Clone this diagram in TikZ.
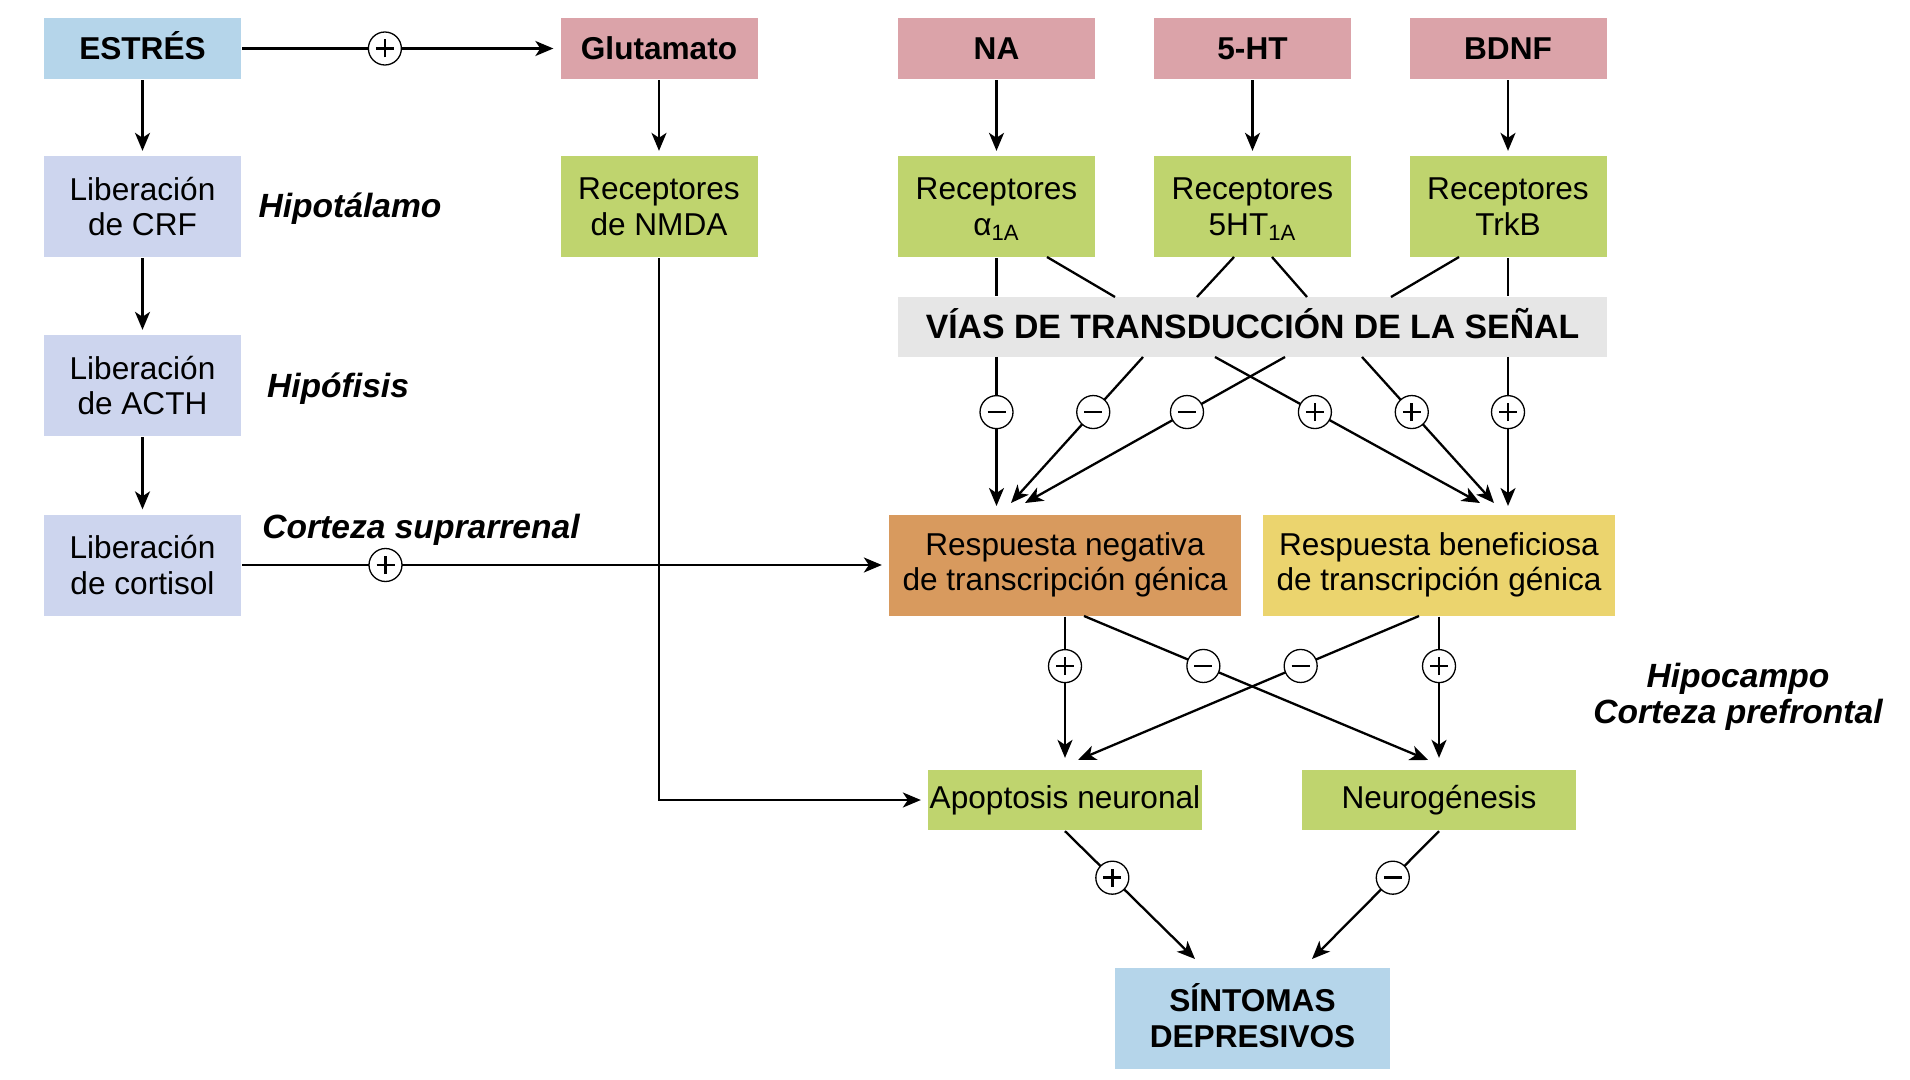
\documentclass[tikz,border=0pt]{standalone}
\usepackage{fontspec}
\setmainfont{Liberation Sans}
\usetikzlibrary{arrows.meta}
\definecolor{cblue}{HTML}{B5D5EA}
\definecolor{cpink}{HTML}{DBA3A9}
\definecolor{cgreen}{HTML}{BFD46E}
\definecolor{clav}{HTML}{CDD5EE}
\definecolor{cgray}{HTML}{E6E6E6}
\definecolor{corange}{HTML}{D89A5E}
\definecolor{cyellow}{HTML}{EBD46E}
\tikzset{
  box/.style={rectangle, inner sep=0pt, align=center, font=\fontsize{15.8}{17.8}\selectfont},
  bbox/.style={box, font=\fontsize{15.8}{17.8}\selectfont\bfseries},
  rowA/.style={minimum width=98.5pt, minimum height=30.5pt},
  rowB/.style={minimum width=98.5pt, minimum height=50.5pt},
  lbl/.style={align=center, inner sep=0pt, font=\fontsize{16.8}{18}\selectfont\bfseries\itshape},
  sgn/.style={circle, draw, fill=white, line width=0.65pt, minimum size=16.5pt, inner sep=0pt},
  signline/.style={line width=1.3pt, arrows=-, shorten >=0pt, shorten <=0pt},
  signplus/.style={sgn, path picture={\draw[signline]
      ([xshift=-4.5pt]path picture bounding box.center) -- ([xshift=4.5pt]path picture bounding box.center)
      ([yshift=-4.5pt]path picture bounding box.center) -- ([yshift=4.5pt]path picture bounding box.center);}},
  signminus/.style={sgn, path picture={\draw[signline]
      ([xshift=-4.5pt]path picture bounding box.center) -- ([xshift=4.5pt]path picture bounding box.center);}},
}
\begin{document}
\begin{tikzpicture}[x=0.5pt, y=-0.5pt, line width=1.15pt,
  >={Stealth[length=9pt,width=7.5pt,inset=2.5pt]}]
\useasboundingbox (0,0) rectangle (1910,1080);

% row 1
\node[bbox, rowA, fill=cblue] (estres) at (142.5,48.5) {ESTR\smash{É}S};
\node[bbox, rowA, fill=cpink] (glut) at (659,48.5) {Glutamato};
\node[bbox, rowA, fill=cpink] (na) at (996.5,48.5) {NA};
\node[bbox, rowA, fill=cpink] (ht) at (1252.5,48.5) {5-HT};
\node[bbox, rowA, fill=cpink] (bdnf) at (1508,48.5) {BDNF};
% row 2
\node[box, rowB, fill=clav] (crf) at (142.5,206.5) {Liberación\\de CRF};
\node[box, rowB, fill=cgreen] (nmda) at (659,206.5) {Receptores\\de NMDA};
\node[box, rowB, fill=cgreen] (ralpha) at (996.5,206.5) {Receptores\\α\smash{\textsubscript{1A}}};
\node[box, rowB, fill=cgreen] (rht) at (1252.5,206.5) {Receptores\\5HT\smash{\textsubscript{1A}}};
\node[box, rowB, fill=cgreen] (rtrkb) at (1508,206.5) {Receptores\\TrkB};
% others
\node[box, rowB, fill=clav] (acth) at (142.5,385.5) {Liberación\\de ACTH};
\node[bbox, fill=cgray, minimum width=354.5pt, minimum height=30pt,
  font=\fontsize{16.9}{18}\selectfont\bfseries] (vias) at (1252.5,327)
  {V\smash{Í}AS DE TRANSDUCCI\smash{Ó}N DE LA SE\smash{Ñ}AL};
\node[box, rowB, fill=clav] (cort) at (142.5,565) {Liberación\\de cortisol};
\node[box, fill=corange, minimum width=176pt, minimum height=50.5pt] (rneg) at (1065,565)
  {Respuesta negativa\\de transcripción génica};
\node[box, fill=cyellow, minimum width=176pt, minimum height=50.5pt] (rben) at (1439,565)
  {Respuesta beneficiosa\\de transcripción génica};
\node[box, fill=cgreen, minimum width=137pt, minimum height=30pt] (apop) at (1065,800) {Apoptosis neuronal};
\node[box, fill=cgreen, minimum width=137pt, minimum height=30pt] (neuro) at (1439,800) {Neurogénesis};
\node[bbox, fill=cblue, minimum width=137.5pt, minimum height=50.5pt] (sint) at (1252.5,1018.5)
  {S\smash{Í}NTOMAS\\DEPRESIVOS};

% labels
\node[lbl] (hipot) at (350,209) {Hipotálamo};
\node[lbl] (hipof) at (338,389) {Hipófisis};
\node[lbl] (cortsup) at (421,530) {Corteza suprarrenal};
\node[lbl] (hipoc) at (1738,697) {Hipocampo\\Corteza prefrontal};

% left column
\draw[->, shorten >=2pt] (estres) -- (crf);
\draw[->, shorten >=2pt] (crf) -- (acth);
\draw[->, shorten >=2pt] (acth) -- (cort);
\draw[->, shorten >=3pt] (estres) -- node[signplus, pos=0.45] (s1) {} (glut);
\draw[->, shorten >=3pt] (cort) -- node[signplus, pos=0.222] (s2) {} (rneg);
\draw[->, shorten >=2pt] (glut) -- (nmda);
\draw[->, shorten >=3pt] (nmda) |- (apop);

% neurotransmitters to receptors
\draw[->, shorten >=2pt] (na) -- (ralpha);
\draw[->, shorten >=2pt] (ht) -- (rht);
\draw[->, shorten >=2pt] (bdnf) -- (rtrkb);

% receptors to signal pathways
\coordinate (u2a) at (1047,257); \coordinate (u2b) at (1115,297);
\coordinate (u3a) at (1234,257); \coordinate (u3b) at (1197,297);
\coordinate (u4a) at (1272,257); \coordinate (u4b) at (1307,297);
\coordinate (u5a) at (1459,257); \coordinate (u5b) at (1391,297);
\draw (ralpha.south) -- (ralpha.south |- vias.north);
\draw (u2a) -- (u2b);
\draw (u3a) -- (u3b);
\draw (u4a) -- (u4b);
\draw (u5a) -- (u5b);
\draw (rtrkb.south) -- (rtrkb.south |- vias.north);

% signal pathways to responses
\coordinate (d1s) at (996.5,357); \coordinate (d1e) at (996.5,506);
\coordinate (d2s) at (1143,357);  \coordinate (d2e) at (1011,503);
\coordinate (d3s) at (1285,357);  \coordinate (d3e) at (1025,503);
\coordinate (d4s) at (1215,357);  \coordinate (d4e) at (1480,503);
\coordinate (d5s) at (1362,357);  \coordinate (d5e) at (1494,503);
\coordinate (d6s) at (1508,357);  \coordinate (d6e) at (1508,506);
\draw[->] (d1s) -- node[signminus, pos=0.37] (m1) {} (d1e);
\draw[->] (d2s) -- node[signminus, pos=0.377] (m2) {} (d2e);
\draw[->] (d3s) -- node[signminus, pos=0.377] (m3) {} (d3e);
\draw[->] (d4s) -- node[signplus, pos=0.377] (p4) {} (d4e);
\draw[->] (d5s) -- node[signplus, pos=0.377] (p5) {} (d5e);
\draw[->] (d6s) -- node[signplus, pos=0.37] (p6) {} (d6e);

% responses to outcomes
\coordinate (bs) at (1084,616); \coordinate (be) at (1428,760);
\coordinate (cs) at (1419,616); \coordinate (ce) at (1078,760);
\draw[->, shorten >=5.5pt] (rneg) -- node[signplus, pos=0.325] (pa) {} (apop);
\draw[->] (bs) -- node[signminus, pos=0.347] (mb) {} (be);
\draw[->] (cs) -- node[signminus, pos=0.347] (mc) {} (ce);
\draw[->, shorten >=5.5pt] (rben) -- node[signplus, pos=0.325] (pd) {} (neuro);

% outcomes to symptoms
\coordinate (ee) at (1195,959);
\coordinate (fe) at (1312,959);
\draw[->] (apop.south) -- node[signplus, pos=0.364] (pe) {} (ee);
\draw[->] (neuro.south) -- node[signminus, pos=0.364] (mf) {} (fe);
\end{tikzpicture}
\end{document}
